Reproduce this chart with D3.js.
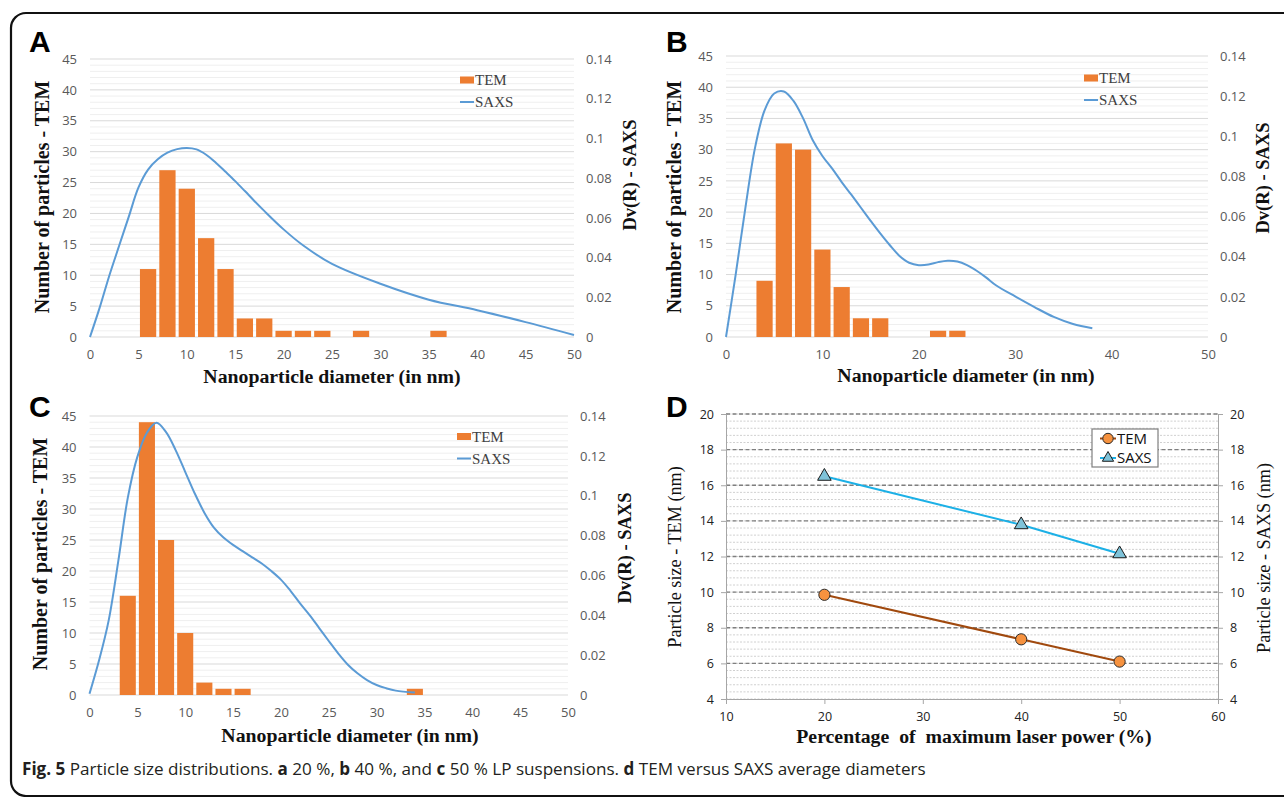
<!DOCTYPE html>
<html>
<head>
<meta charset="utf-8">
<script src="https://cdn.jsdelivr.net/npm/d3@7"></script>
<style>
  body { margin: 0; background: #fff; }
  svg { display: block; }
  .tick text { font-family: 'Open Sans', sans-serif; }
</style>
</head>
<body>
<svg id="fig" width="1284" height="797"></svg>
<script>
// ---- data ----
// A: 20 % LP
const binsA = [6, 8, 10, 12, 14, 16, 18, 20, 22, 24, 28, 36];
const countsA = [11, 27, 24, 16, 11, 3, 3, 1, 1, 1, 1, 1];
const saxsXA = [0, 1, 2, 3, 4, 5, 6, 7, 8, 9, 10, 11, 12, 13, 14, 15, 16, 17, 18, 20, 22, 25, 30, 35, 40, 45, 50];
const saxsA = [0, 0.0148, 0.031, 0.0458, 0.0605, 0.0752, 0.0843, 0.0895, 0.0928, 0.0946, 0.0952, 0.0945, 0.0918,
  0.0878, 0.0832, 0.0785, 0.0735, 0.0684, 0.0635, 0.0542, 0.0462, 0.0368, 0.0268, 0.0188, 0.0135, 0.0075, 0.001];

// B: 40 % LP
const binsB = [4, 6, 8, 10, 12, 14, 16, 22, 24];
const countsB = [9, 31, 30, 14, 8, 3, 3, 1, 1];
const saxsXB = [0, 1, 2, 3, 4, 5, 6, 7, 8, 9, 10, 11, 12, 13, 14, 15, 16, 17, 18, 19, 20, 21, 22, 23, 24, 25, 26, 27, 28, 30, 32, 34, 36, 38];
const saxsB = [0, 0.031, 0.064, 0.094, 0.1129, 0.1213, 0.1223, 0.1176, 0.1089, 0.098, 0.0902, 0.084, 0.0772, 0.0709,
  0.0644, 0.0579, 0.0516, 0.0457, 0.0404, 0.037, 0.0358, 0.0361, 0.0373, 0.038, 0.0376, 0.0358, 0.033, 0.0296,
  0.0258, 0.0202, 0.0149, 0.01, 0.0065, 0.0044];

// C: 50 % LP
const binsC = [4, 6, 8, 10, 12, 14, 16, 34];
const countsC = [16, 44, 25, 10, 2, 1, 1, 1];
const saxsXC = [0, 1, 2, 3, 4, 5, 6, 7, 8, 9, 10, 11, 12, 13, 14, 15, 16, 17, 18, 19, 20, 21, 22, 23, 24, 25, 26, 27, 28, 29, 30, 31, 32, 34];
const saxsC = [0.0006, 0.0174, 0.0373, 0.0669, 0.0989, 0.1195, 0.1316, 0.1366, 0.1319, 0.1229, 0.112, 0.1011, 0.0915,
  0.084, 0.079, 0.0753, 0.0722, 0.0691, 0.066, 0.0622, 0.0579, 0.0523, 0.046, 0.0401, 0.0336, 0.0271, 0.0208,
  0.0152, 0.0109, 0.0075, 0.005, 0.0034, 0.0022, 0.0012];

// D: average diameters
const laserPower = [20, 40, 50];
const temSize = [9.85, 7.35, 6.1];
const saxsSize = [16.5, 13.78, 12.15];

// ticks
const countTicks = [0, 5, 10, 15, 20, 25, 30, 35, 40, 45];
const dvTicks = [0, 0.02, 0.04, 0.06, 0.08, 0.1, 0.12, 0.14];
const diamTicks5 = [0, 5, 10, 15, 20, 25, 30, 35, 40, 45, 50];
const diamTicks10 = [0, 10, 20, 30, 40, 50];
const powerTicks = [10, 20, 30, 40, 50, 60];
const sizeTicks = [4, 6, 8, 10, 12, 14, 16, 18, 20];

const ORANGE = '#ed7d31';
const BLUE = '#5b9bd5';
const SERIF = "'Liberation Serif', 'DejaVu Serif', serif";
const SANS = "'Open Sans', sans-serif";

const svg = d3.select('#fig');

// frame
svg.append('rect')
  .attr('x', 11).attr('y', 13).attr('width', 1320).attr('height', 783)
  .attr('rx', 15).attr('fill', 'none').attr('stroke', '#111').attr('stroke-width', 2.2);

function panelLetter(txt, x, y) {
  svg.append('text').attr('x', x).attr('y', y).text(txt)
    .attr('font-family', "'Liberation Sans', Arial, sans-serif")
    .attr('font-weight', 'bold').attr('font-size', 30).attr('fill', '#000');
}

function histPanel(cfg) {
  const x = d3.scaleLinear().domain([0, 50]).range([cfg.x0, cfg.x1]);
  const y = d3.scaleLinear().domain([0, 45]).range([cfg.y0, cfg.y1]);
  const y2 = d3.scaleLinear().domain([0, 0.14]).range([cfg.y0, cfg.y1]);
  const g = svg.append('g');

  // gridlines
  g.append('g').selectAll('line').data(d3.range(0, 46)).join('line')
    .attr('x1', cfg.x0).attr('x2', cfg.x1)
    .attr('y1', d => y(d)).attr('y2', d => y(d))
    .attr('stroke', d => d % 5 === 0 ? '#d9d9d9' : '#efefef')
    .attr('stroke-width', 1);

  // bars
  const bars = d3.zip(cfg.bins, cfg.counts);
  g.append('g').selectAll('rect').data(bars).join('rect')
    .attr('x', d => x(d[0] - 0.84))
    .attr('width', x(1.68) - x(0))
    .attr('y', d => y(d[1]))
    .attr('height', d => y(0) - y(d[1]))
    .attr('fill', ORANGE);

  // SAXS curve
  const line = d3.line()
    .x(d => x(d[0])).y(d => y2(d[1]))
    .curve(d3.curveCatmullRom.alpha(0.5));
  g.append('path').datum(d3.zip(cfg.saxsX, cfg.saxs))
    .attr('d', line).attr('fill', 'none')
    .attr('stroke', BLUE).attr('stroke-width', 2);

  // axes
  const left = g.append('g').attr('transform', `translate(${cfg.x0},0)`)
    .call(d3.axisLeft(y).tickValues(countTicks).tickSize(0).tickPadding(13));
  const right = g.append('g').attr('transform', `translate(${cfg.x1},0)`)
    .call(d3.axisRight(y2).tickValues(dvTicks).tickSize(0).tickPadding(12)
      .tickFormat(d => String(Math.round(d * 100) / 100)));
  const bottom = g.append('g').attr('transform', `translate(0,${cfg.y0})`)
    .call(d3.axisBottom(x).tickValues(cfg.xTicks).tickSize(0).tickPadding(13));
  [left, right, bottom].forEach(a => {
    a.select('.domain').remove();
    a.selectAll('text').attr('font-size', 13).attr('fill', '#595959');
  });

  // axis titles
  g.append('text').attr('x', cfg.xt[0]).attr('y', cfg.xt[1])
    .attr('text-anchor', 'middle').attr('font-family', SERIF)
    .attr('font-weight', 'bold').attr('font-size', 19.8).attr('fill', '#111')
    .text('Nanoparticle diameter (in nm)');
  g.append('text')
    .attr('transform', `translate(${cfg.lt[0]},${cfg.lt[1]}) rotate(-90)`)
    .attr('text-anchor', 'middle').attr('dy', '0.35em').attr('font-family', SERIF)
    .attr('font-weight', 'bold').attr('font-size', 20).attr('fill', '#111')
    .text('Number of particles - TEM');
  g.append('text')
    .attr('transform', `translate(${cfg.rt[0]},${cfg.rt[1]}) rotate(-90)`)
    .attr('text-anchor', 'middle').attr('dy', '0.35em').attr('font-family', SERIF)
    .attr('font-weight', 'bold').attr('font-size', 18.5).attr('fill', '#111')
    .text('Dv(R) - SAXS');

  // legend
  const lg = g.append('g').attr('transform', `translate(${cfg.legend[0]},${cfg.legend[1]})`);
  lg.append('rect').attr('x', 0).attr('y', -3.5).attr('width', 14).attr('height', 7).attr('fill', ORANGE);
  lg.append('text').attr('x', 15).attr('y', 0).attr('dy', '0.35em').text('TEM')
    .attr('font-family', SERIF).attr('font-size', 15).attr('fill', '#404040');
  lg.append('line').attr('x1', 0).attr('x2', 14).attr('y1', 22).attr('y2', 22)
    .attr('stroke', BLUE).attr('stroke-width', 2);
  lg.append('text').attr('x', 15).attr('y', 22).attr('dy', '0.35em').text('SAXS')
    .attr('font-family', SERIF).attr('font-size', 15).attr('fill', '#404040');
}

histPanel({
  x0: 90, x1: 574, y0: 337, y1: 59,
  bins: binsA, counts: countsA, saxsX: saxsXA, saxs: saxsA, xTicks: diamTicks5,
  xt: [332, 383], lt: [42, 197], rt: [630, 175], legend: [460, 80]
});
histPanel({
  x0: 726, x1: 1208, y0: 337, y1: 56,
  bins: binsB, counts: countsB, saxsX: saxsXB, saxs: saxsB, xTicks: diamTicks10,
  xt: [966, 382], lt: [674, 197], rt: [1263, 178], legend: [1084, 78]
});
histPanel({
  x0: 89.5, x1: 568, y0: 695, y1: 416,
  bins: binsC, counts: countsC, saxsX: saxsXC, saxs: saxsC, xTicks: diamTicks5,
  xt: [350, 742], lt: [40, 554], rt: [625, 548], legend: [457, 436.5]
});

// ---- panel D ----
(function () {
  const x0 = 726, x1 = 1218, yb = 699, yt = 414;
  const x = d3.scaleLinear().domain([10, 60]).range([x0, x1]);
  const y = d3.scaleLinear().domain([4, 20]).range([yb, yt]);
  const g = svg.append('g');

  // minor grid every 0.4
  g.append('g').selectAll('line').data(d3.range(0, 41).map(i => 4 + i * 0.4)).join('line')
    .attr('x1', x0).attr('x2', x1)
    .attr('y1', d => y(d)).attr('y2', d => y(d))
    .attr('stroke', '#c4c4c4').attr('stroke-width', 0.8)
    .attr('stroke-dasharray', '2,1.5');
  // major grid every 2
  g.append('g').selectAll('line').data(sizeTicks.slice(1)).join('line')
    .attr('x1', x0).attr('x2', x1)
    .attr('y1', d => y(d)).attr('y2', d => y(d))
    .attr('stroke', '#7f7f7f').attr('stroke-width', 1.4)
    .attr('stroke-dasharray', '4,2.5');

  const axisStyle = a => {
    a.select('.domain').attr('stroke', '#a6a6a6');
    a.selectAll('.tick line').attr('stroke', '#a6a6a6');
    a.selectAll('text').attr('font-size', 12.5).attr('fill', '#222');
  };
  g.append('g').attr('transform', `translate(${x0},0)`)
    .call(d3.axisLeft(y).tickValues(sizeTicks).tickSizeInner(5).tickSizeOuter(0).tickPadding(7))
    .call(axisStyle);
  g.append('g').attr('transform', `translate(${x1},0)`)
    .call(d3.axisRight(y).tickValues(sizeTicks).tickSizeInner(5).tickSizeOuter(0).tickPadding(7))
    .call(axisStyle);
  g.append('g').attr('transform', `translate(0,${yb})`)
    .call(d3.axisBottom(x).tickValues(powerTicks).tickSizeInner(5).tickSizeOuter(0).tickPadding(8))
    .call(axisStyle);

  const TEMLINE = '#a0490e', SAXSLINE = '#1cb0e6';
  const line = d3.line().x(d => x(d[0])).y(d => y(d[1]));
  const tem = d3.zip(laserPower, temSize);
  const sax = d3.zip(laserPower, saxsSize);
  g.append('path').datum(tem).attr('d', line).attr('fill', 'none')
    .attr('stroke', TEMLINE).attr('stroke-width', 2);
  g.append('path').datum(sax).attr('d', line).attr('fill', 'none')
    .attr('stroke', SAXSLINE).attr('stroke-width', 2);

  const tri = d3.symbol().type(d3.symbolTriangle).size(80);
  g.append('g').selectAll('circle').data(tem).join('circle')
    .attr('cx', d => x(d[0])).attr('cy', d => y(d[1])).attr('r', 5.6)
    .attr('fill', '#f6923f').attr('stroke', '#2b2b2b').attr('stroke-width', 1);
  g.append('g').selectAll('path').data(sax).join('path')
    .attr('transform', d => `translate(${x(d[0])},${y(d[1])})`)
    .attr('d', tri)
    .attr('fill', '#7fc3d9').attr('stroke', '#1a1a1a').attr('stroke-width', 1);

  // titles
  g.append('text').attr('x', 974).attr('y', 743)
    .attr('text-anchor', 'middle').attr('font-family', SERIF)
    .attr('font-weight', 'bold').attr('font-size', 19.8).attr('fill', '#111')
    .style('white-space', 'pre')
    .text('Percentage  of  maximum laser power (%)');
  g.append('text').attr('transform', 'translate(675,557) rotate(-90)')
    .attr('text-anchor', 'middle').attr('dy', '0.35em').attr('font-family', SERIF)
    .attr('font-size', 18.2).attr('fill', '#111')
    .text('Particle size - TEM (nm)');
  g.append('text').attr('transform', 'translate(1264,558) rotate(-90)')
    .attr('text-anchor', 'middle').attr('dy', '0.35em').attr('font-family', SERIF)
    .attr('font-size', 18.2).attr('fill', '#111')
    .text('Particle size - SAXS (nm)');

  // legend
  const lg = g.append('g').attr('transform', 'translate(1092,429)');
  lg.append('rect').attr('width', 66).attr('height', 38)
    .attr('fill', '#fff').attr('stroke', '#7f7f7f').attr('stroke-width', 1.2);
  lg.append('line').attr('x1', 8).attr('x2', 24).attr('y1', 9.5).attr('y2', 9.5)
    .attr('stroke', TEMLINE).attr('stroke-width', 2);
  lg.append('circle').attr('cx', 16).attr('cy', 9.5).attr('r', 5.2)
    .attr('fill', '#f6923f').attr('stroke', '#2b2b2b');
  lg.append('text').attr('x', 25).attr('y', 9.5).attr('dy', '0.35em').text('TEM')
    .attr('font-family', SANS).attr('font-size', 15).attr('fill', '#111');
  lg.append('line').attr('x1', 8).attr('x2', 24).attr('y1', 29).attr('y2', 29)
    .attr('stroke', SAXSLINE).attr('stroke-width', 2);
  lg.append('path').attr('transform', 'translate(16,29)').attr('d', d3.symbol().type(d3.symbolTriangle).size(55))
    .attr('fill', '#7fc3d9').attr('stroke', '#1a1a1a');
  lg.append('text').attr('x', 25).attr('y', 29).attr('dy', '0.35em').text('SAXS')
    .attr('font-family', SANS).attr('font-size', 15).attr('fill', '#111');
})();

panelLetter('A', 29, 52);
panelLetter('B', 666, 52);
panelLetter('C', 29, 417);
panelLetter('D', 666, 417);

// caption
const cap = svg.append('text').attr('x', 22).attr('y', 775)
  .attr('font-family', SANS).attr('font-size', 17.1).attr('fill', '#231f20')
  .style('white-space', 'pre');
[
  ['Fig. 5', true], [' Particle size distributions. ', false], ['a', true], [' 20 %, ', false],
  ['b', true], [' 40 %, and ', false], ['c', true], [' 50 % LP suspensions. ', false],
  ['d', true], [' TEM versus SAXS average diameters', false]
].forEach(([t, b]) => cap.append('tspan').attr('font-weight', b ? 'bold' : 'normal').text(t));
</script>
</body>
</html>
